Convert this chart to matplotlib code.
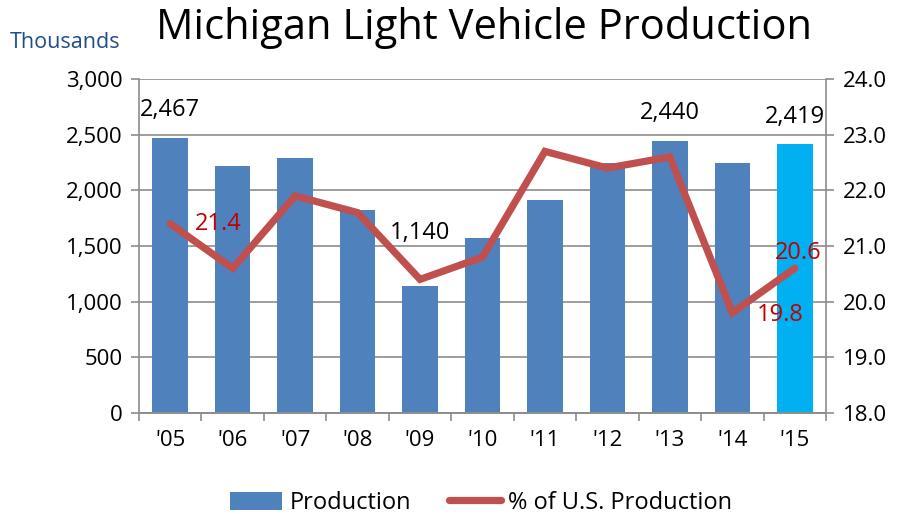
import numpy as np
import matplotlib.pyplot as plt
from matplotlib.ticker import FuncFormatter, MultipleLocator

plt.rcParams['font.family'] = ['Open Sans', 'DejaVu Sans']

# ===================== ДАННЫЕ =====================
years = ["'05", "'06", "'07", "'08", "'09", "'10", "'11", "'12", "'13", "'14", "'15"]
production = [2467, 2220, 2290, 1820, 1140, 1575, 1910, 2250, 2440, 2245, 2419]
share_us = [21.4, 20.6, 21.9, 21.6, 20.4, 20.8, 22.7, 22.4, 22.6, 19.8, 20.6]

prod_labels = {0: (0, 28), 4: (0, 53), 8: (0, 28), 10: (0, 27)}   # индекс -> смещение, px
share_labels = {0: (48, 0), 9: (48, -2), 10: (3, 15)}

bar_color = '#4F81BD'
last_color = '#00B0F0'
line_color = '#C0504D'
grid_color = '#8C8C8C'

# ===================== ГРАФИК =====================
fig = plt.figure(figsize=(9.03, 5.14), dpi=100)
ax = fig.add_axes([139/903, 101/514, 687/903, 334/514])
ax2 = ax.twinx()

x = np.arange(len(years))
colors = [bar_color] * (len(years) - 1) + [last_color]
bars = ax.bar(x, production, width=0.57, color=colors, zorder=2)
line, = ax2.plot(x, share_us, color=line_color, linewidth=5.2, solid_capstyle='round',
                 solid_joinstyle='miter', zorder=3)

ax.set_xlim(-0.5, len(years) - 0.5)
ax.set_ylim(0, 3000)
ax.yaxis.set_major_locator(MultipleLocator(500))
ax.yaxis.set_major_formatter(FuncFormatter(lambda v, p: f'{v:,.0f}'))
ax2.set_ylim(18, 24)
ax2.yaxis.set_major_locator(MultipleLocator(1))
ax2.yaxis.set_major_formatter(FuncFormatter(lambda v, p: f'{v:.1f}'))

ax.set_xticks(x)
ax.set_xticklabels(years)
ax.set_xticks(np.arange(-0.5, len(years)), minor=True)
ax.tick_params(axis='x', which='major', length=0, pad=12, labelsize=16)
ax.tick_params(axis='x', which='minor', length=6, color=grid_color, width=1.2)
ax.tick_params(axis='y', length=6, color=grid_color, width=1.2, labelsize=16, pad=6)
ax2.tick_params(axis='y', length=6, color=grid_color, width=1.2, labelsize=16, pad=6)

ax.grid(axis='y', color=grid_color, linewidth=1.2, zorder=0)
ax.set_axisbelow(True)
for a in (ax, ax2):
    a.spines['top'].set_visible(False)
    for s in ('left', 'right', 'bottom'):
        a.spines[s].set_color(grid_color)
        a.spines[s].set_linewidth(1.2)
ax2.spines['left'].set_visible(False)
ax.spines['right'].set_visible(False)

# подписи значений
for i, (dx, dy) in prod_labels.items():
    ax.annotate(f'{production[i]:,}', xy=(x[i], production[i]), xytext=(dx, dy),
                textcoords='offset pixels', ha='center', va='center', fontsize=17)
for i, (dx, dy) in share_labels.items():
    ax2.annotate(f'{share_us[i]:.1f}', xy=(x[i], share_us[i]), xytext=(dx, dy),
                 textcoords='offset pixels', ha='center', va='center', fontsize=17,
                 color='#C00000')

fig.text(484/903, 1 - 28/514, 'Michigan Light Vehicle Production', ha='center', va='center',
         fontsize=30)
fig.text(10/903, 1 - 42/514, 'Thousands', ha='left', va='center', fontsize=15.5, color='#1F4E8C')

fig.legend([bars, line], ['Production', '% of U.S. Production'], loc='center',
           bbox_to_anchor=(481/903, 1 - 503/514), ncol=2, frameon=False, fontsize=17,
           handlelength=2.2, handleheight=0.8, columnspacing=1.6, handletextpad=0.3,
           borderpad=0.2)

fig.savefig('out.png', dpi=100)
